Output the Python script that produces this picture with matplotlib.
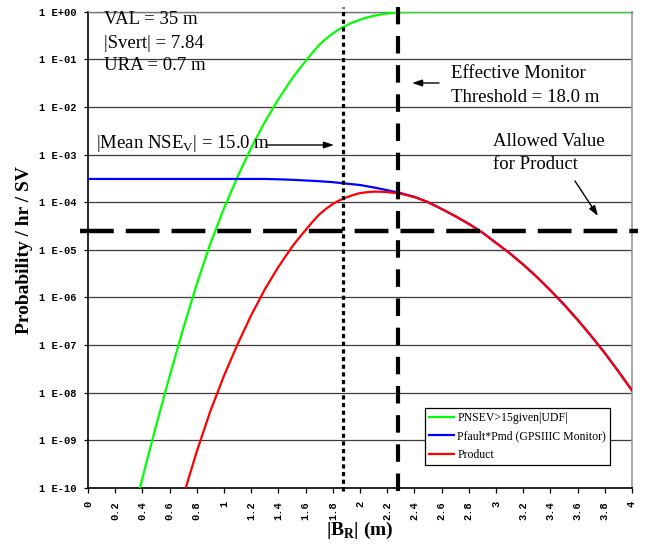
import numpy as np
import matplotlib
matplotlib.use('Agg')
import matplotlib.pyplot as plt
from matplotlib.ticker import FixedLocator, NullLocator

# |B_R| grid (m), finer where the curves bend most
br = [0.0, 0.1, 0.2, 0.3, 0.4, 0.5, 0.6, 0.7, 0.8, 0.9, 1.0, 1.1, 1.2, 1.3, 1.4, 1.5,
      1.55, 1.6, 1.65, 1.7, 1.75, 1.8, 1.85, 1.9, 1.95, 2.0, 2.05, 2.1, 2.15, 2.2, 2.25,
      2.3, 2.35, 2.4, 2.45, 2.5,
      2.6, 2.7, 2.8, 2.9, 3.0, 3.1, 3.2, 3.3, 3.4, 3.5, 3.6, 3.7, 3.8, 3.9, 4.0]

# P(NSEV > 15 | UDF); nothing drawn for the first points (below 1E-10)
p_nsev = [np.nan, np.nan, np.nan, 1.1e-11, 1.6e-10, 2.0e-9, 2.2e-8, 2.2e-7, 1.9e-6, 1.35e-5,
          7.4e-5, 3.4e-4, 1.38e-3, 4.8e-3, 1.45e-2, 3.9e-2,
          6.03e-2, 9.1e-2, 1.365e-1, 2.0e-1, 2.69e-1, 3.47e-1, 4.315e-1, 5.13e-1, 5.96e-1,
          6.76e-1, 7.5e-1, 8.13e-1, 8.67e-1, 9.12e-1, 9.46e-1,
          9.7e-1, 9.84e-1, 9.93e-1, 9.966e-1, 9.989e-1,
          1.0, 1.0, 1.0, 1.0, 1.0, 1.0, 1.0, 1.0, 1.0, 1.0, 1.0, 1.0, 1.0, 1.0, 1.0]

# Pfault * Pmd for the GPSIIIC monitor
p_fault_md = [3.07e-4, 3.07e-4, 3.07e-4, 3.07e-4, 3.07e-4, 3.07e-4, 3.07e-4, 3.07e-4, 3.07e-4, 3.07e-4,
              3.07e-4, 3.07e-4, 3.07e-4, 3.07e-4, 3.02e-4, 2.95e-4,
              2.90e-4, 2.85e-4, 2.81e-4, 2.75e-4, 2.69e-4, 2.63e-4, 2.54e-4, 2.45e-4, 2.37e-4,
              2.29e-4, 2.16e-4, 2.04e-4, 1.91e-4, 1.78e-4, 1.66e-4,
              1.55e-4, 1.41e-4, 1.29e-4, 1.14e-4, 1.0e-4,
              7.2e-5, 5.1e-5, 3.5e-5, 2.3e-5, 1.4e-5, 8.5e-6, 4.9e-6, 2.7e-6, 1.41e-6, 7.1e-7,
              3.4e-7, 1.55e-7, 6.8e-8, 2.8e-8, 1.12e-8]

product = np.array(p_nsev) * np.array(p_fault_md)

mean_nse_br = 1.873      # |B_R| giving |mean NSE_V| = 15 m
monitor_br = 2.28        # effective monitor threshold (18 m)
allowed = 2.5e-5         # allowed value for product

xticks = [0, 0.2, 0.4, 0.6, 0.8, 1, 1.2, 1.4, 1.6, 1.8, 2, 2.2, 2.4, 2.6, 2.8, 3, 3.2, 3.4, 3.6, 3.8, 4]
xlabels = ['0', '0.2', '0.4', '0.6', '0.8', '1', '1.2', '1.4', '1.6', '1.8', '2',
           '2.2', '2.4', '2.6', '2.8', '3', '3.2', '3.4', '3.6', '3.8', '4']
yticks = [1e-10, 1e-9, 1e-8, 1e-7, 1e-6, 1e-5, 1e-4, 1e-3, 1e-2, 1e-1, 1e0]
ylabels = ['1 E-10', '1 E-09', '1 E-08', '1 E-07', '1 E-06', '1 E-05',
           '1 E-04', '1 E-03', '1 E-02', '1 E-01', '1 E+00']

serif = 'Liberation Serif'
mono = 'Liberation Mono'

W, H = 657, 544
fig = plt.figure(figsize=(W / 100, H / 100), dpi=100)
ax = fig.add_axes([88 / W, 1 - 488 / H, 544 / W, 476.4 / H])


def fx(px):
    return px / W


def fy(py):
    return 1 - py / H


ax.set_yscale('log')
ax.set_xlim(0, 4)
ax.set_ylim(1e-10, 1)

for y in yticks:
    ax.axhline(y, color='#3a3a3a', lw=0.9, zorder=1)

ax.plot(br, p_nsev, color='#00ff00', lw=1.6, label='PNSEV>15given|UDF|', zorder=3)
ax.plot(br, p_fault_md, color='#0000ff', lw=1.6, label='Pfault*Pmd (GPSIIIC Monitor)', zorder=3)
ax.plot(br, product, color='#ff0000', lw=1.6, label='Product', zorder=4)

ax.axvline(mean_nse_br, ymin=-0.006, ymax=1.01, color='black', lw=2.3,
           dashes=(1.3, 1.1), clip_on=False, zorder=5)
ax.axvline(monitor_br, ymin=-0.006, ymax=1.01, color='black', lw=3.0,
           dashes=(4.2, 2.8), clip_on=False, zorder=5)
ax.axhline(allowed, xmin=-0.015, xmax=1.011, color='black', lw=3.2,
           dashes=(7.6, 2.7), clip_on=False, zorder=5)

ax.xaxis.set_major_locator(FixedLocator(xticks))
ax.set_xticklabels(xlabels, rotation=90, fontfamily=mono, fontweight='bold', fontsize=7.5)
ax.yaxis.set_major_locator(FixedLocator(yticks))
ax.yaxis.set_minor_locator(NullLocator())
ax.set_yticklabels(ylabels, fontfamily=mono, fontweight='bold', fontsize=7.5)
ax.tick_params(axis='x', length=3.5, width=0.9, pad=6)
ax.tick_params(axis='y', length=3, width=0.9, pad=5)

ax.spines['left'].set_linewidth(1.2)
ax.spines['bottom'].set_linewidth(1.2)
ax.spines['right'].set_color('#999999')
ax.spines['right'].set_linewidth(1.2)
ax.spines['top'].set_color('#777777')
ax.spines['top'].set_linewidth(1.0)

ax.set_ylabel('Probability / hr / SV', fontfamily=serif, fontweight='bold', fontsize=14)
ax.yaxis.set_label_coords(-(88 - 33) / 544, 0.5)
ax.set_xlabel(r'|B$_{\mathregular{R}}$| (m)', fontfamily=serif, fontweight='bold', fontsize=14)
ax.xaxis.set_label_coords(0.5, -(520 - 488) / 476.4)

txt = dict(fontfamily=serif, fontsize=13.5, va='center', ha='left')
fig.text(fx(104), fy(20), 'VAL = 35 m', **txt)
fig.text(fx(104), fy(43), '|Svert| = 7.84', **txt)
fig.text(fx(104), fy(66), 'URA = 0.7 m', **txt)
fig.text(fx(96), fy(143), r'|Mean NSE$_{\mathregular{V}}$| = 15.0 m', **txt)
fig.text(fx(451), fy(73), 'Effective Monitor', **txt)
fig.text(fx(451), fy(97), 'Threshold = 18.0 m', **txt)
fig.text(fx(493), fy(142), 'Allowed Value', **txt)
fig.text(fx(493), fy(165), 'for Product', **txt)

arrow = dict(arrowstyle='-|>,head_length=0.6,head_width=0.2', color='black', lw=1.0,
             shrinkA=0, shrinkB=0)
ax.annotate('', xy=(fx(334), fy(145)), xytext=(fx(266), fy(145)),
            xycoords='figure fraction', textcoords='figure fraction', arrowprops=arrow)
ax.annotate('', xy=(fx(412), fy(83)), xytext=(fx(439), fy(83)),
            xycoords='figure fraction', textcoords='figure fraction', arrowprops=arrow)
ax.annotate('', xy=(fx(598), fy(216)), xytext=(fx(575), fy(181)),
            xycoords='figure fraction', textcoords='figure fraction', arrowprops=arrow)

leg = ax.legend(loc='upper left', bbox_to_anchor=(fx(425), fy(408)), bbox_transform=fig.transFigure,
                borderaxespad=0, fancybox=False, framealpha=1, edgecolor='black',
                prop={'family': serif, 'size': 8.5}, handlelength=2.1, handletextpad=0.3,
                labelspacing=0.55, borderpad=0.35)
leg.get_frame().set_linewidth(0.9)
leg.set_zorder(10)

fig.savefig('out.png', dpi=100)
